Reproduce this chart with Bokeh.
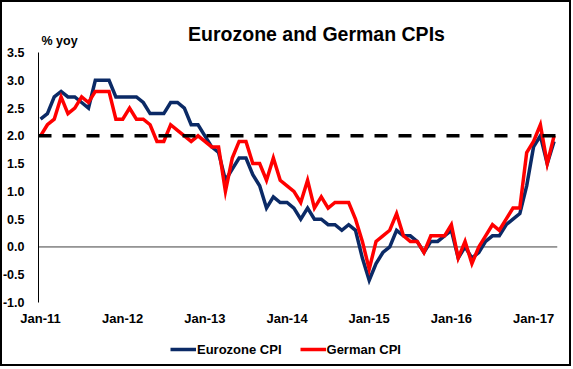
from bokeh.plotting import figure
from bokeh.models import (ColumnDataSource, Range1d, FixedTicker, Label,
                          Legend, LegendItem, CustomJSTickFormatter)
from bokeh.embed import file_html
from bokeh.resources import INLINE

# ---- data (monthly, Jan-2011 .. Apr-2017) ----
eurozone_cpi = [
    2.3, 2.4, 2.7, 2.8, 2.7, 2.7, 2.6, 2.5, 3.0, 3.0, 3.0, 2.7,   # 2011
    2.7, 2.7, 2.7, 2.6, 2.4, 2.4, 2.4, 2.6, 2.6, 2.5, 2.2, 2.2,   # 2012
    2.0, 1.8, 1.7, 1.2, 1.4, 1.6, 1.6, 1.3, 1.1, 0.7, 0.9, 0.8,   # 2013
    0.8, 0.7, 0.5, 0.7, 0.5, 0.5, 0.4, 0.4, 0.3, 0.4, 0.3, -0.2,  # 2014
    -0.6, -0.3, -0.1, 0.0, 0.3, 0.2, 0.2, 0.1, -0.1, 0.1, 0.1, 0.2,  # 2015
    0.3, -0.2, 0.0, -0.2, -0.1, 0.1, 0.2, 0.2, 0.4, 0.5, 0.6, 1.1,   # 2016
    1.8, 2.0, 1.5, 1.9,                                            # 2017
]
german_cpi = [
    2.0, 2.2, 2.3, 2.7, 2.4, 2.5, 2.7, 2.6, 2.8, 2.8, 2.8, 2.3,   # 2011
    2.3, 2.5, 2.3, 2.3, 2.2, 1.9, 1.9, 2.2, 2.1, 2.0, 1.9, 2.0,   # 2012
    1.9, 1.8, 1.8, 1.0, 1.6, 1.9, 1.9, 1.5, 1.5, 1.2, 1.6, 1.2,   # 2013
    1.1, 1.0, 0.8, 1.2, 0.7, 0.9, 0.7, 0.8, 0.8, 0.8, 0.5, 0.1,   # 2014
    -0.4, 0.1, 0.2, 0.3, 0.6, 0.2, 0.1, 0.1, -0.1, 0.2, 0.2, 0.2,  # 2015
    0.4, -0.2, 0.1, -0.3, 0.0, 0.2, 0.4, 0.3, 0.5, 0.7, 0.7, 1.7,  # 2016
    1.9, 2.2, 1.5, 2.0,                                            # 2017
]
month_index = list(range(len(eurozone_cpi)))
tick_positions = [0, 12, 24, 36, 48, 60, 72]
tick_labels = ["Jan-11", "Jan-12", "Jan-13", "Jan-14", "Jan-15", "Jan-16", "Jan-17"]
y_ticks = [-1.0, -0.5, 0.0, 0.5, 1.0, 1.5, 2.0, 2.5, 3.0, 3.5]
target = 2.0
title_text = "Eurozone and German CPIs"
unit_text = "% yoy"

# extent of the value area along x (months)
x_lo, x_hi = -0.3, 75.5

FONT = "Liberation Sans"
BLUE = "#0B2A66"
RED = "#FF0000"

src = ColumnDataSource(dict(x=month_index, ez=eurozone_cpi, de=german_cpi))

# the frame covers the whole chart; axes are pinned at the edges of the value area
p = figure(frame_width=555, frame_height=356, output_backend="svg", toolbar_location=None,
           x_range=Range1d(-5.558, x_hi), y_range=Range1d(-2.116, 4.292),
           min_border_left=0, min_border_right=12, min_border_top=6,
           min_border_bottom=0)
p.styles = {"border": "2px solid #000"}
p.outline_line_color = None
p.xgrid.visible = False
p.ygrid.visible = False
p.background_fill_color = "white"
p.border_fill_color = "white"

# y axis
ya = p.yaxis[0]
ya.fixed_location = x_lo
ya.ticker = FixedTicker(ticks=y_ticks)
ya.bounds = (y_ticks[0], y_ticks[-1])
ya.formatter = CustomJSTickFormatter(code="return tick.toFixed(1);")
ya.major_tick_line_color = None
ya.minor_tick_line_color = None
ya.axis_line_color = "#000000"
ya.axis_line_width = 1
ya.major_label_text_font = FONT
ya.major_label_text_font_style = "bold"
ya.major_label_text_font_size = "12.5px"
ya.major_label_text_color = "#000000"
ya.major_label_standoff = 8

# x axis (pinned at the bottom of the value range)
xa = p.xaxis[0]
xa.fixed_location = y_ticks[0]
xa.ticker = FixedTicker(ticks=tick_positions)
xa.major_label_overrides = {t: l for t, l in zip(tick_positions, tick_labels)}
xa.axis_line_color = None
xa.major_tick_line_color = None
xa.minor_tick_line_color = None
xa.major_tick_out = 0
xa.major_tick_in = 0
xa.minor_tick_out = 0
xa.axis_label_standoff = 0
xa.major_label_text_font = FONT
xa.major_label_text_font_style = "bold"
xa.major_label_text_font_size = "13px"
xa.major_label_text_color = "#000000"
xa.major_label_standoff = 8

# zero line (under the series)
p.segment(x0=[x_lo], y0=[0], x1=[x_hi], y1=[0], line_color="#404040", line_width=1)

r_ez = p.line("x", "ez", source=src, line_color=BLUE, line_width=3.5, line_join="miter")
r_de = p.line("x", "de", source=src, line_color=RED, line_width=3.5, line_join="miter")

# 2% target line (on top)
p.segment(x0=[x_lo], y0=[target], x1=[x_hi], y1=[target], line_color="#000000",
          line_width=3.5, line_dash="13 11")

legend = Legend(items=[LegendItem(label="Eurozone CPI", renderers=[r_ez]),
                       LegendItem(label="German CPI", renderers=[r_de])],
                orientation="horizontal", location=(168, 7),
                border_line_color=None, background_fill_alpha=0,
                padding=0, margin=0, spacing=18, glyph_width=26, glyph_height=16,
                label_height=16, label_standoff=1,
                label_text_font=FONT, label_text_font_style="bold",
                label_text_font_size="13px", label_text_color="#000000")
p.add_layout(legend, "center")

p.add_layout(Label(x=40.3, y=3.837, text=title_text, text_align="center",
                   text_baseline="alphabetic", text_font=FONT,
                   text_font_style="bold", text_font_size="19.5px", text_color="#000000"))
p.add_layout(Label(x=0.14, y=3.70, text=unit_text, text_align="left",
                   text_baseline="alphabetic", text_font=FONT,
                   text_font_style="bold", text_font_size="12.5px", text_color="#000000"))

open("out.html", "w").write(file_html(p, INLINE))
